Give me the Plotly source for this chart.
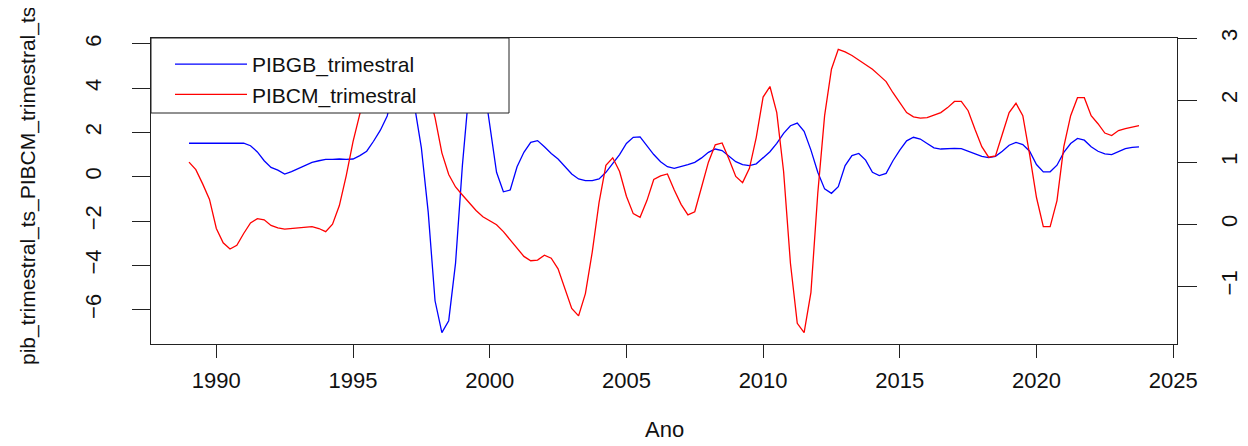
import plotly.graph_objects as go

# ---- data (quarterly series, start 1989 Q1) ----
start_year = 1989
frequency = 4

pibgb_trimestral = [
    1.51, 1.51, 1.51, 1.51,
    1.51, 1.51, 1.51, 1.51,
    1.51, 1.40, 1.12, 0.72,
    0.42, 0.30, 0.12, 0.23,
    0.38, 0.53, 0.65, 0.72,
    0.78, 0.78, 0.80, 0.78,
    0.80, 0.95, 1.15, 1.60,
    2.10, 2.74, 4.00, 5.75,
    4.80, 3.20, 1.30, -1.60,
    -5.60, -7.04, -6.50, -3.90,
    0.50, 4.00, 5.00, 4.50,
    2.40, 0.20, -0.68, -0.60,
    0.45, 1.10, 1.55, 1.63,
    1.35, 1.05, 0.80, 0.45,
    0.12, -0.10, -0.18, -0.18,
    -0.10, 0.20, 0.60, 1.00,
    1.50, 1.78, 1.80, 1.40,
    1.00, 0.68, 0.45, 0.38,
    0.45, 0.55, 0.65, 0.85,
    1.10, 1.25, 1.18, 0.95,
    0.68, 0.55, 0.50, 0.58,
    0.85, 1.13, 1.50, 1.96,
    2.30, 2.42, 2.05, 1.20,
    0.20, -0.55, -0.75, -0.45,
    0.50, 0.95, 1.05, 0.75,
    0.20, 0.05, 0.15, 0.72,
    1.20, 1.62, 1.78, 1.70,
    1.50, 1.30, 1.25, 1.27,
    1.28, 1.27, 1.15, 1.02,
    0.92, 0.86, 0.92, 1.15,
    1.42, 1.55, 1.45, 1.15,
    0.55, 0.22, 0.22, 0.52,
    1.10, 1.50, 1.73, 1.65,
    1.35, 1.15, 1.03, 1.00,
    1.15, 1.27, 1.32, 1.35,
]

pibcm_trimestral = [
    1.00, 0.88, 0.65, 0.40,
    -0.07, -0.30, -0.40, -0.34,
    -0.15, 0.02, 0.09, 0.07,
    -0.02, -0.06, -0.08, -0.07,
    -0.06, -0.04, -0.04, -0.07,
    -0.12, 0.00, 0.30, 0.78,
    1.33, 1.78, 2.20, 2.50,
    2.65, 2.70, 2.65, 2.55,
    2.45, 2.35, 2.25, 2.15,
    1.72, 1.15, 0.80, 0.60,
    0.47, 0.35, 0.22, 0.12,
    0.06, -0.01, -0.12, -0.25,
    -0.38, -0.52, -0.59, -0.58,
    -0.50, -0.55, -0.72, -1.05,
    -1.36, -1.48, -1.12, -0.45,
    0.35, 0.95, 1.07, 0.85,
    0.45, 0.17, 0.11, 0.38,
    0.72, 0.78, 0.81, 0.55,
    0.32, 0.15, 0.20, 0.60,
    1.00, 1.28, 1.31, 1.05,
    0.77, 0.67, 0.90, 1.40,
    2.05, 2.22, 1.80, 0.85,
    -0.63, -1.60, -1.75, -1.10,
    0.50, 1.75, 2.50, 2.82,
    2.78, 2.72, 2.65, 2.58,
    2.50, 2.40, 2.30, 2.12,
    1.95, 1.80, 1.73, 1.71,
    1.72, 1.76, 1.80, 1.88,
    1.98, 1.98, 1.83, 1.53,
    1.25, 1.08, 1.10, 1.45,
    1.80, 1.95, 1.75, 1.12,
    0.43, -0.04, -0.04, 0.38,
    1.25, 1.75, 2.04, 2.04,
    1.75, 1.62, 1.47, 1.43,
    1.51, 1.54, 1.57, 1.59,
]

x_tick_values = [1990, 1995, 2000, 2005, 2010, 2015, 2020, 2025]
left_tick_values = [-6, -4, -2, 0, 2, 4, 6]
right_tick_values = [-1, 0, 1, 2, 3]

series_names = ["PIBGB_trimestral", "PIBCM_trimestral"]
x_title = "Ano"
y_title = "pib_trimestral_ts_PIBCM_trimestral_ts"

time = [start_year + i / frequency for i in range(len(pibgb_trimestral))]


def r_range(values):
    lo, hi = min(values), max(values)
    d = (hi - lo) * 0.04
    return [lo - d, hi + d]


FONT = "Liberation Sans, Arial, sans-serif"
PAGE_W, PAGE_H = 1248, 446
BODY = 8                      # default body margin of the html page
W, H = PAGE_W - BODY, PAGE_H - BODY
# plot box in page pixels: x 151..1177, y 38..344
BOX_L, BOX_R, BOX_T, BOX_B = 151, 1177, 38, 344
L, T = BOX_L - BODY, BOX_T - BODY
R, B = PAGE_W - BOX_R, PAGE_H - BOX_B
PW = BOX_R - BOX_L
PH = BOX_B - BOX_T


def px(x):
    return (x - BOX_L) / PW


def py(y):
    return 1 - (y - BOX_T) / PH


fig = go.Figure()
fig.add_trace(go.Scatter(x=time, y=pibgb_trimestral, mode="lines",
                         name=series_names[0],
                         line=dict(color="#0000FF", width=1.3), yaxis="y"))
fig.add_trace(go.Scatter(x=time, y=pibcm_trimestral, mode="lines",
                         name=series_names[1],
                         line=dict(color="#FF0000", width=1.3), yaxis="y2"))

axis_common = dict(showgrid=False, zeroline=False, showline=True,
                   linecolor="#222", linewidth=1, ticks="outside",
                   tickcolor="#222", tickwidth=1, automargin=False,
                   tickfont=dict(family=FONT, size=22, color="#111"))

fig.update_layout(
    width=W, height=H, autosize=False,
    margin=dict(l=L, r=R, t=T, b=B, pad=0, autoexpand=False),
    paper_bgcolor="white", plot_bgcolor="white",
    font=dict(family=FONT, size=22, color="#111"),
    xaxis=dict(range=r_range(time), tickvals=x_tick_values, ticklen=13,
               mirror=True, ticklabelstandoff=4, **axis_common),
    yaxis=dict(range=r_range(pibgb_trimestral), tickvals=left_tick_values,
               ticklen=18, tickangle=-90, mirror=True,
               ticklabelstandoff=22, **axis_common),
    yaxis2=dict(range=r_range(pibcm_trimestral), tickvals=right_tick_values,
                ticklen=19, tickangle=-90, overlaying="y", side="right",
                ticklabelstandoff=14, **axis_common),
    showlegend=True,
    legend=dict(x=px(170), y=py(44), xanchor="left",
                yanchor="top", bgcolor="rgba(0,0,0,0)", borderwidth=0,
                itemwidth=72,
                font=dict(family=FONT, size=21, color="#111")),
    shapes=[dict(type="rect", xref="paper", yref="paper",
                 x0=0, x1=px(509), y0=py(113), y1=1,
                 fillcolor="white", line=dict(color="#222", width=1),
                 layer="above")],
    annotations=[
        dict(text=x_title, xref="paper", yref="paper", x=0.5,
             y=py(430), xanchor="center", yanchor="middle",
             showarrow=False, font=dict(family=FONT, size=22, color="#111")),
        dict(text=y_title, xref="paper", yref="paper", x=px(28),
             y=py(186), xanchor="center", yanchor="middle",
             textangle=-90, showarrow=False,
             font=dict(family=FONT, size=21, color="#111")),
    ],
)

fig.write_html("out.html")
